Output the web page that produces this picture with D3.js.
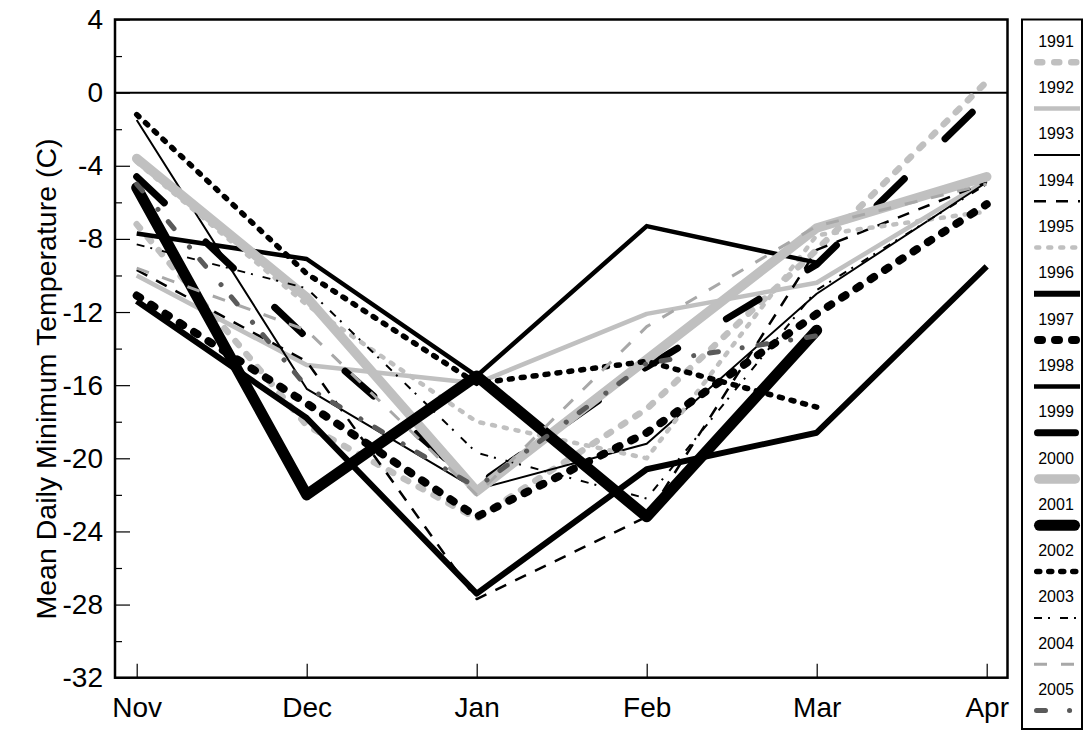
<!DOCTYPE html>
<html>
<head>
<meta charset="utf-8">
<script src="https://cdn.jsdelivr.net/npm/d3@7"></script>
<style>
  body { margin: 0; background: #fff; }
  svg text { font-family: "Liberation Sans", Arial, sans-serif; }
</style>
</head>
<body>
<svg id="chart"></svg>
<script>
// months along the x axis
const months = ['Nov', 'Dec', 'Jan', 'Feb', 'Mar', 'Apr'];

// mean daily minimum temperature per winter (C)
const t1991 = [-7.2, -18.2, -23.3, -17.3, -8.6, 0.6];
const t1992 = [-10.0, -14.9, -15.9, -12.1, -10.4, -4.8];
const t1993 = [-1.5, -16.2, -21.7, -19.2, -11.0, -4.9];
const t1994 = [-9.7, -14.7, -27.7, -23.2, -8.6, -4.9];
const t1995 = [-3.8, -11.6, -18.0, -20.0, -7.8, -6.5];
const t1996 = [-11.4, -17.8, -27.4, -20.6, -18.6, -9.5];
const t1997 = [-11.1, -17.0, -23.2, -18.6, -12.1, -6.1];
const t1998 = [-7.7, -9.1, -15.5, -7.3, -9.3, null];
const t1999 = [-4.6, -13.4, -21.5, -15.0, -9.4, -0.3];
const t2000 = [-3.6, -11.2, -21.8, -14.6, -7.4, -4.6];
const t2001 = [-5.2, -22.0, -15.5, -23.2, -13.0, null];
const t2002 = [-1.2, -9.9, -15.9, -14.7, -17.2, null];
const t2003 = [-8.3, -10.7, -19.7, -22.2, -10.8, -5.0];
const t2004 = [-9.6, -13.0, -22.0, -12.8, -7.3, -5.0];
const t2005 = [-5.0, -16.1, -21.6, -14.8, -13.3, null];

const years = ['1991', '1992', '1993', '1994', '1995', '1996', '1997', '1998',
               '1999', '2000', '2001', '2002', '2003', '2004', '2005'];
const values = [t1991, t1992, t1993, t1994, t1995, t1996, t1997, t1998,
                t1999, t2000, t2001, t2002, t2003, t2004, t2005];

// tick labels
const yTicks = [4, 0, -4, -8, -12, -16, -20, -24, -28, -32];
const yMinorTicks = [2, -2, -6, -10, -14, -18, -22, -26, -30];

// line style per year (stroke, width, dash)
const styles = {
  '1991': {color: '#c0c0c0', width: 6.5, dash: '5,12', cap: 'round'},
  '1992': {color: '#c0c0c0', width: 4.5, dash: null, cap: 'butt'},
  '1993': {color: '#000', width: 2, dash: null, cap: 'butt'},
  '1994': {color: '#000', width: 2.5, dash: '12,10', cap: 'butt'},
  '1995': {color: '#c0c0c0', width: 4.5, dash: '3,9', cap: 'round'},
  '1996': {color: '#000', width: 6, dash: null, cap: 'butt'},
  '1997': {color: '#000', width: 8, dash: '4,13', cap: 'round'},
  '1998': {color: '#000', width: 4.5, dash: null, cap: 'butt'},
  '1999': {color: '#000', width: 7, dash: '38,57', cap: 'round'},
  '2000': {color: '#c0c0c0', width: 9.5, dash: null, cap: 'round'},
  '2001': {color: '#000', width: 11, dash: null, cap: 'round'},
  '2002': {color: '#000', width: 5.5, dash: '3,9', cap: 'round'},
  '2003': {color: '#000', width: 2, dash: '8,6,2,10', cap: 'butt'},
  '2004': {color: '#a8a8a8', width: 3, dash: '13,14', cap: 'butt'},
  '2005': {color: '#5a5a5a', width: 5, dash: '9,24,0.1,16', cap: 'round'}
};

class TempChart {

  constructor(_config) {
    this.config = {
      parentElement: _config.parentElement,
      containerWidth: _config.containerWidth || 1085,
      containerHeight: _config.containerHeight || 732,
      plot: _config.plot || {left: 115, right: 1007.5, top: 19.5, bottom: 677.7},
      legend: _config.legend || {left: 1022, right: 1082, top: 19.5, bottom: 729}
    };
    this.initVis();
  }

  initVis() {
    let vis = this;
    const p = vis.config.plot;

    vis.svg = d3.select(vis.config.parentElement)
        .attr('width', vis.config.containerWidth)
        .attr('height', vis.config.containerHeight);

    // scales
    vis.xScale = d3.scalePoint()
        .domain(months)
        .range([136.7, 986.7]);
    vis.yScale = d3.scaleLinear()
        .domain([-32, 4])
        .range([p.bottom, p.top]);

    // axes, ticks pointing inwards; plain hyphen for negatives
    vis.yAxis = d3.axisLeft(vis.yScale)
        .tickValues(yTicks)
        .tickSize(-15)
        .tickPadding(12)
        .tickFormat(d => String(d));
    vis.yMinorAxis = d3.axisLeft(vis.yScale)
        .tickValues(yMinorTicks)
        .tickSize(-7)
        .tickFormat('');
    vis.xAxis = d3.axisBottom(vis.xScale)
        .tickSize(-14)
        .tickPadding(19.5);

    vis.chart = vis.svg.append('g');

    vis.lineGen = d3.line()
        .defined(d => d.v != null)
        .x(d => vis.xScale(d.m))
        .y(d => vis.yScale(d.v));

    vis.renderVis();
  }

  renderVis() {
    let vis = this;
    const p = vis.config.plot;

    vis.chart.append('g')
        .attr('class', 'axis y-axis')
        .attr('transform', `translate(${p.left},0)`)
        .call(vis.yAxis)
        .call(g => g.select('.domain').remove())
        .call(g => g.selectAll('line').attr('stroke', '#000').attr('stroke-width', 1.2))
        .call(g => g.selectAll('text')
            .attr('font-size', 28)
            .attr('fill', '#000')
            .attr('font-family', '"Liberation Sans", Arial, sans-serif'));

    vis.chart.append('g')
        .attr('transform', `translate(${p.left},0)`)
        .call(vis.yMinorAxis)
        .call(g => g.select('.domain').remove())
        .call(g => g.selectAll('line').attr('stroke', '#000').attr('stroke-width', 1.2));

    vis.chart.append('g')
        .attr('class', 'axis x-axis')
        .attr('transform', `translate(0,${p.bottom})`)
        .call(vis.xAxis)
        .call(g => g.select('.domain').remove())
        .call(g => g.selectAll('line').attr('stroke', '#000').attr('stroke-width', 1.2))
        .call(g => g.selectAll('text')
            .attr('font-size', 28)
            .attr('fill', '#000')
            .attr('font-family', '"Liberation Sans", Arial, sans-serif'));

    // zero line
    vis.chart.append('line')
        .attr('x1', p.left).attr('x2', p.right)
        .attr('y1', vis.yScale(0)).attr('y2', vis.yScale(0))
        .attr('stroke', '#000')
        .attr('stroke-width', 2);

    // series lines, later years drawn on top
    const series = years.map((y, i) => ({
      year: y,
      points: months.map((m, j) => ({m: m, v: values[i][j]}))
    }));

    vis.chart.append('g')
        .selectAll('path')
        .data(series)
        .join('path')
        .attr('d', d => vis.lineGen(d.points))
        .attr('fill', 'none')
        .attr('stroke', d => styles[d.year].color)
        .attr('stroke-width', d => styles[d.year].width)
        .attr('stroke-dasharray', d => styles[d.year].dash)
        .attr('stroke-linecap', d => styles[d.year].cap)
        .attr('stroke-linejoin', 'round');

    // plot frame
    vis.chart.append('rect')
        .attr('x', p.left).attr('y', p.top)
        .attr('width', p.right - p.left)
        .attr('height', p.bottom - p.top)
        .attr('fill', 'none')
        .attr('stroke', '#000')
        .attr('stroke-width', 2.5);

    // y axis title
    vis.svg.append('text')
        .attr('transform', 'translate(56,379) rotate(-90)')
        .attr('text-anchor', 'middle')
        .attr('font-size', 28.5)
        .text('Mean Daily Minimum Temperature (C)');

    vis.renderLegend();
  }

  renderLegend() {
    let vis = this;
    const L = vis.config.legend;
    const step = 46.3;

    vis.svg.append('rect')
        .attr('x', L.left).attr('y', L.top)
        .attr('width', L.right - L.left)
        .attr('height', L.bottom - L.top)
        .attr('fill', '#fff')
        .attr('stroke', '#000')
        .attr('stroke-width', 2);

    const items = vis.svg.append('g')
        .selectAll('g')
        .data(years)
        .join('g')
        .attr('transform', (d, i) => `translate(0,${41.3 + i * step})`);

    items.append('text')
        .attr('x', 1056)
        .attr('y', 5.5)
        .attr('text-anchor', 'middle')
        .attr('font-size', 16)
        .text(d => d);

    items.append('line')
        .attr('x1', d => styles[d].cap === 'round' ? 1034 + styles[d].width / 2 : 1034)
        .attr('x2', d => styles[d].cap === 'round' ? 1080 - styles[d].width / 2 : 1080)
        .attr('y1', 21).attr('y2', 21)
        .attr('stroke', d => styles[d].color)
        .attr('stroke-width', d => styles[d].width)
        .attr('stroke-dasharray', d => styles[d].dash)
        .attr('stroke-linecap', d => styles[d].cap);
  }
}

new TempChart({parentElement: '#chart'});
</script>
</body>
</html>
